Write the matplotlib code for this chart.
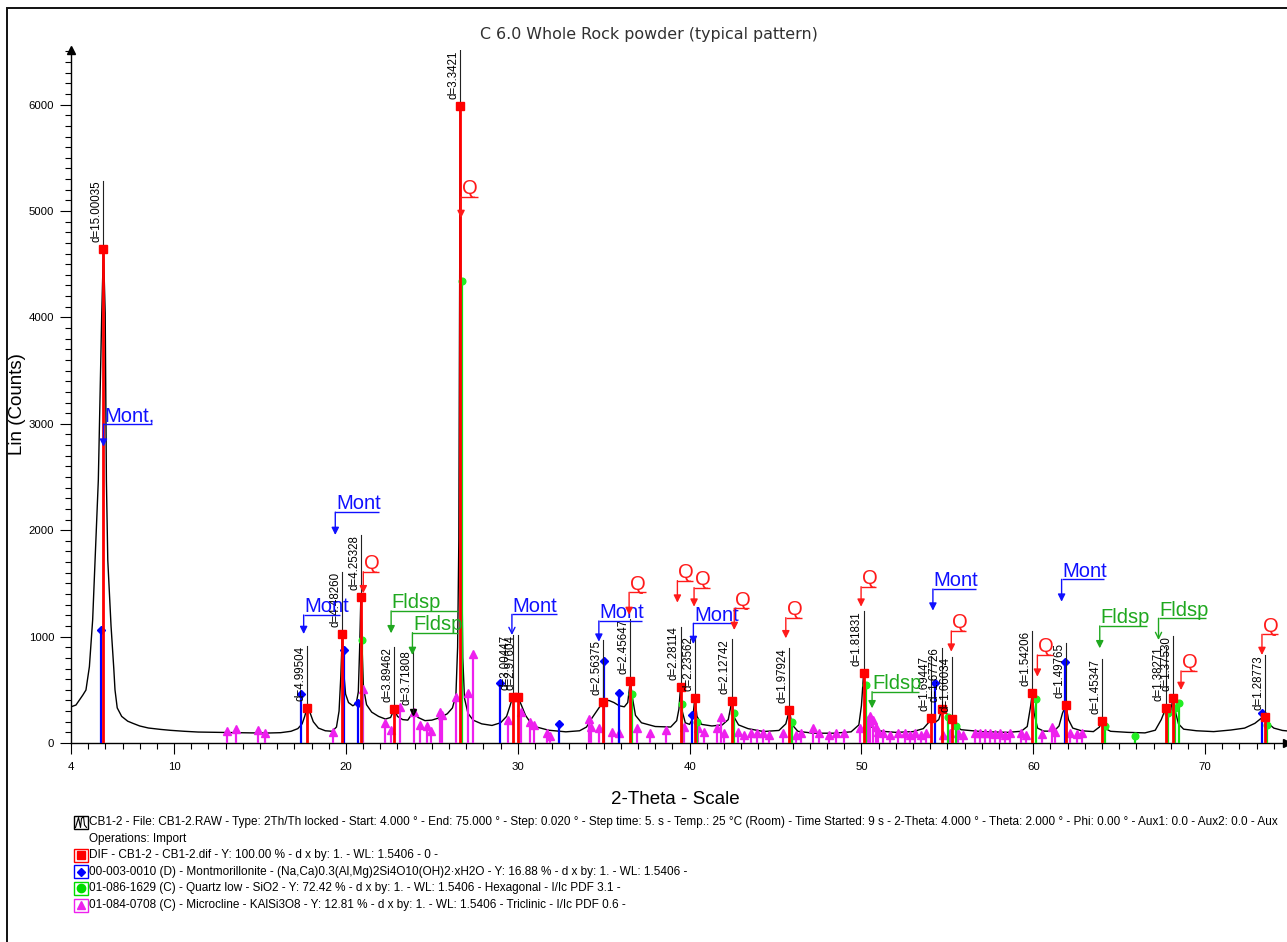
import numpy as np
import matplotlib
matplotlib.use("Agg")
import matplotlib.pyplot as plt
from matplotlib.patches import Rectangle
from matplotlib.lines import Line2D

W, H = 1287, 942
WAVELENGTH = 1.5406
SANS = ["Liberation Sans", "DejaVu Sans"]

# ---- measured scan (2-theta in degrees, counts) ----
scan_2theta = [4.00, 4.29, 4.69, 4.87, 5.07, 5.26, 5.40, 5.59, 5.79, 5.887, 5.99, 6.06, 6.14,
               6.33, 6.49, 6.56, 6.69, 6.95, 7.3, 7.6, 8.0, 8.5, 9.2, 9.8, 10.6, 11.4, 12.5,
               13.5, 14.5, 15.5, 16.2, 16.8, 17.2, 17.45, 17.6, 17.743, 17.9, 18.1, 18.4, 18.8,
               19.2, 19.45, 19.6, 19.7, 19.79, 19.88, 19.98, 20.15, 20.4, 20.6, 20.72, 20.8,
               20.869, 20.94, 21.02, 21.2, 21.5, 21.9, 22.3, 22.6, 22.815, 23.0, 23.3, 23.6,
               23.914, 24.2, 24.6, 25.0, 25.5, 25.9, 26.2, 26.4, 26.5, 26.57, 26.61, 26.651,
               26.69, 26.73, 26.8, 26.9, 27.1, 27.4, 27.9, 28.5, 29.0, 29.35, 29.55, 29.71,
               29.85, 30.0, 30.2, 30.45, 30.75, 31.1, 31.8, 32.8, 33.6, 34.0, 34.3, 34.6,
               34.97, 35.3, 35.6, 35.9, 36.2, 36.4, 36.55, 36.68, 36.85, 37.2, 38.0, 38.9,
               39.25, 39.38, 39.47, 39.57, 39.75, 40.0, 40.18, 40.31, 40.43, 40.7, 41.3, 41.9,
               42.25, 42.46, 42.6, 42.85, 43.4, 44.3, 45.2, 45.6, 45.81, 45.95, 46.3, 47.2,
               48.4, 49.4, 49.85, 50.0, 50.13, 50.23, 50.4, 50.7, 51.2, 52.0, 53.0, 53.6,
               53.95, 54.08, 54.3, 54.5, 54.68, 54.85, 55.05, 55.28, 55.5, 55.8, 57.0, 58.5,
               59.3, 59.65, 59.85, 59.94, 60.05, 60.25, 60.6, 61.2, 61.5, 61.7, 61.9, 62.05,
               62.3, 62.8, 63.5, 63.85, 64.01, 64.15, 64.5, 65.5, 66.5, 67.1, 67.45, 67.71,
               67.85, 68.0, 68.13, 68.28, 68.45, 68.75, 69.5, 70.5, 71.5, 72.3, 72.9, 73.25,
               73.48, 73.7, 74.0, 74.5, 75.0]
scan_counts = [340, 357, 451, 498, 717, 1156, 1720, 2470, 4040, 4640, 4040, 2470, 1720,
               1100, 700, 500, 330, 250, 205, 185, 160, 141, 128, 119, 110, 103, 100,
               97, 95, 94, 97, 110, 135, 180, 250, 332, 290, 200, 140, 115,
               110, 150, 300, 620, 1024, 650, 460, 380, 350, 370, 480, 900,
               1375, 900, 520, 360, 290, 250, 225, 240, 320, 250, 220, 215,
               290, 240, 210, 215, 240, 275, 330, 450, 900, 1900, 4000, 5990,
               4000, 1900, 800, 420, 280, 215, 180, 165, 190, 250, 350, 435,
               415, 435, 360, 260, 190, 150, 120, 105, 115, 150, 230, 300,
               388, 400, 380, 350, 340, 380, 583, 420, 260, 190, 155, 150,
               210, 320, 523, 300, 190, 175, 230, 426, 250, 175, 160, 170,
               220, 395, 240, 170, 135, 108, 118, 180, 310, 175, 110, 92,
               92, 105, 170, 350, 660, 300, 170, 140, 110, 100, 107, 135,
               200, 232, 195, 220, 316, 295, 260, 222, 160, 125, 107, 100,
               110, 155, 350, 467, 280, 140, 112, 110, 160, 280, 357, 220,
               140, 115, 107, 150, 207, 140, 110, 100, 95, 120, 220, 326,
               270, 300, 420, 290, 180, 130, 115, 107, 122, 140, 185, 230,
               247, 180, 140, 118, 110]

# ---- peak-search results (DIF) ----
dif_label = ["d=15.00035", "d=4.99504", "d=4.48260", "d=4.25328", "d=3.89462", "d=3.71808",
             "d=3.3421", "d=3.00447", "d=2.97604", "d=2.56375", "d=2.45647", "d=2.28114",
             "d=2.23562", "d=2.12742", "d=1.97924", "d=1.81831", "d=1.69447", "d=1.67726",
             "d=1.66034", "d=1.54206", "d=1.49765", "d=1.45347", "d=1.38271", "d=1.37530",
             "d=1.28773"]
dif_counts = [4640, 332, 1024, 1375, 320, 290, 5990, 435, 435, 388, 583, 523, 426, 395,
              310, 660, 232, 316, 222, 467, 357, 207, 326, 420, 247]
dif_in_list = [True, True, True, True, True, False, True, True, True, True, True, True, True,
               True, True, True, True, True, True, True, True, True, True, True, True]

# ---- reference patterns ----
mont_2theta = [5.74, 17.38, 19.91, 20.72, 28.98, 32.39, 35.01, 35.88, 40.16, 54.26, 61.84, 73.31]
mont_counts = [1065, 465, 874, 373, 567, 179, 774, 467, 263, 567, 764, 279]

quartz_2theta = [20.95, 26.74, 36.66, 39.58, 40.45, 42.59, 45.95, 50.27, 55.03, 55.48, 60.14,
                 64.17, 65.93, 67.87, 68.25, 68.51, 73.60]
quartz_counts = [968, 4340, 460, 367, 200, 285, 200, 545, 247, 160, 410, 160, 66, 285, 326,
                 373, 169]

micro_2theta = [13.10, 13.63, 14.90, 15.28, 19.26, 21.02, 22.27, 22.62, 23.15, 23.99, 24.32,
                24.70, 24.96, 25.48, 25.62, 26.39, 27.09, 27.42, 29.43, 30.20, 30.73, 30.92,
                31.70, 31.90, 34.13, 34.29, 34.71, 35.49, 35.91, 36.94, 37.72, 38.60, 39.67,
                40.51, 40.84, 41.61, 41.81, 42.00, 42.79, 43.18, 43.57, 43.95, 44.25, 44.63,
                45.41, 46.18, 46.47, 47.16, 47.55, 48.13, 48.52, 49.00, 49.89, 50.18, 50.38,
                50.51, 50.67, 50.82, 50.95, 51.25, 51.64, 52.13, 52.52, 52.81, 53.10, 53.49,
                53.78, 54.74, 55.13, 55.63, 55.92, 56.60, 56.89, 57.18, 57.47, 57.76, 58.05,
                58.34, 58.63, 59.30, 59.60, 60.48, 61.07, 61.26, 62.13, 62.52, 62.81]
micro_counts = [116, 128, 122, 97, 106, 510, 185, 122, 341, 294, 169,
                163, 116, 294, 263, 435, 466, 836, 216, 294, 200, 169,
                91, 66, 222, 153, 138, 107, 91, 138, 91, 122, 153,
                138, 107, 138, 247, 91, 107, 75, 97, 91, 91, 75,
                91, 75, 91, 138, 91, 75, 91, 91, 138, 153, 200,
                254, 216, 153, 107, 91, 75, 97, 91, 75, 91, 75,
                91, 75, 91, 91, 75, 91, 91, 97, 91, 81, 91,
                75, 91, 91, 75, 81, 147, 107, 91, 81, 91]

# ---- phase tags: arrow position, arrow tip, leader level, leader end ----
tag_text = ["Mont,", "Mont", "Mont", "Q", "Fldsp", "Fldsp", "Q", "Mont", "Mont", "Q", "Q",
            "Q", "Mont", "Q", "Q", "Q", "Fldsp", "Mont", "Q", "Q", "Mont", "Fldsp", "Fldsp",
            "Q", "Q"]
tag_2theta = [5.89, 17.54, 19.38, 21.01, 22.63, 23.87, 26.70, 29.66, 34.72, 36.48, 39.29,
              40.26, 40.22, 42.60, 45.60, 49.98, 50.62, 54.16, 55.23, 60.24, 61.65, 63.87,
              67.29, 68.60, 73.31]
tag_tip = [2785, 1024, 1955, 1407, 1031, 827, 4934, 1015, 952, 1203, 1319, 1281, 930, 1062,
           984, 1281, 326, 1244, 858, 623, 1328, 890, 968, 498, 827]
tag_level = [2998, 1203, 2170, 1610, 1241, 1037, 5134, 1209, 1147, 1416, 1526, 1460, 1125,
             1266, 1178, 1469, 482, 1447, 1053, 827, 1538, 1100, 1172, 677, 1021]
tag_end = [8.73, 19.65, 21.95, 21.90, 26.50, 26.50, 27.67, 32.28, 37.23, 37.44, 40.20, 41.17,
           42.68, 43.47, 46.57, 50.82, 53.37, 56.68, 56.10, 61.15, 64.10, 66.60, 70.06, 69.51,
           74.22]
tag_open = [False, False, False, False, False, False, False, True, False, False, False, False,
            False, False, False, False, False, False, False, False, False, False, True, False,
            False]

tag_colors = {"Mont": "#1010ff", "Mont,": "#1010ff", "Q": "#ff1a1a", "Fldsp": "#1fa81f"}

legend_rows = [
    "CB1-2 - File: CB1-2.RAW - Type: 2Th/Th locked - Start: 4.000 \u00b0 - End: 75.000 \u00b0 - "
    "Step: 0.020 \u00b0 - Step time: 5. s - Temp.: 25 \u00b0C (Room) - Time Started: 9 s - "
    "2-Theta: 4.000 \u00b0 - Theta: 2.000 \u00b0 - Phi: 0.00 \u00b0 - Aux1: 0.0 - Aux2: 0.0 - Aux",
    "Operations: Import",
    "DIF - CB1-2 - CB1-2.dif - Y: 100.00 % - d x by: 1. - WL: 1.5406 - 0 -",
    "00-003-0010 (D) - Montmorillonite - (Na,Ca)0.3(Al,Mg)2Si4O10(OH)2\u00b7xH2O - Y: 16.88 % - "
    "d x by: 1. - WL: 1.5406 -",
    "01-086-1629 (C) - Quartz low - SiO2 - Y: 72.42 % - d x by: 1. - WL: 1.5406 - Hexagonal - "
    "I/Ic PDF 3.1 -",
    "01-084-0708 (C) - Microcline - KAlSi3O8 - Y: 12.81 % - d x by: 1. - WL: 1.5406 - "
    "Triclinic - I/Ic PDF 0.6 -",
]


def bragg_2theta(d):
    return np.degrees(2.0 * np.arcsin(WAVELENGTH / (2.0 * np.asarray(d, dtype=float))))


def fx(px):
    return px / W


def fy(py):
    return 1.0 - py / H


fig = plt.figure(figsize=(W / 100, H / 100), dpi=100)
fig.patch.set_facecolor("white")

# outer frame
fig.add_artist(Rectangle((fx(7), fy(960)), fx(1300) - fx(7), fy(8) - fy(960),
                         transform=fig.transFigure, fill=False, lw=1.4, ec="#111111"))

ax = fig.add_axes([fx(71), fy(743), fx(1291) - fx(71), fy(50) - fy(743)])
ax.set_xlim(4, 75)
ax.set_ylim(0, 6513)
for s in ("top", "right"):
    ax.spines[s].set_visible(False)
for s in ("left", "bottom"):
    ax.spines[s].set_linewidth(1.0)

# axis arrows
ax.plot([0], [1], marker="^", color="black", ms=6, transform=ax.transAxes, clip_on=False)
ax.plot([0.997], [0], marker=">", color="black", ms=6, transform=ax.transAxes, clip_on=False)

# ticks
ax.set_yticks(np.arange(0, 6001, 1000))
ax.set_yticks(np.arange(0, 6501, 100), minor=True)
ax.set_xticks([4, 10, 20, 30, 40, 50, 60, 70])
ax.set_xticks(np.arange(5, 75, 1), minor=True)
ax.tick_params(axis="y", which="major", direction="out", length=8, width=0.8, pad=4,
               labelsize=8.2)
ax.tick_params(axis="y", which="minor", direction="out", length=4.2, width=0.8)
ax.tick_params(axis="x", which="major", direction="out", length=8, width=0.8, pad=6,
               labelsize=8.2)
ax.tick_params(axis="x", which="minor", direction="out", length=4, width=0.8)
for lab in ax.get_xticklabels() + ax.get_yticklabels():
    lab.set_family(SANS)

# scan
ax.plot(scan_2theta, scan_counts, color="black", lw=1.0, zorder=2)

# Microcline sticks
ax.vlines(micro_2theta, 0, micro_counts, color="#ee20ee", lw=1.6, zorder=3)
ax.plot(micro_2theta, micro_counts, ls="none", marker="^", ms=5.5, color="#ee20ee",
        zorder=3)

# Quartz sticks
ax.vlines(quartz_2theta, 0, quartz_counts, color="#10e010", lw=1.6, zorder=4)
ax.plot(quartz_2theta, quartz_counts, ls="none", marker="o", ms=4.8, color="#22ee22",
        zorder=4)

# Montmorillonite sticks
ax.vlines(mont_2theta, 0, mont_counts, color="#0000ff", lw=1.6, zorder=5)
ax.plot(mont_2theta, mont_counts, ls="none", marker="D", ms=3.8, color="#0000ff", zorder=5)

# DIF peaks
dif_d = [float(t.split("=")[1]) for t in dif_label]
dif_2theta = bragg_2theta(dif_d)
sq_x = [x for x, keep in zip(dif_2theta, dif_in_list) if keep]
sq_y = [y for y, keep in zip(dif_counts, dif_in_list) if keep]
ax.plot(dif_2theta, dif_counts, ls="none", marker="v", ms=5, color="black", zorder=6)
ax.vlines(sq_x, 0, sq_y, color="#ff0000", lw=2.0, zorder=7)
ax.plot(sq_x, sq_y, ls="none", marker="s", ms=6, color="#ff0000", zorder=7)

# d-spacing labels
d_texts = []
for lab, x, y in zip(dif_label, dif_2theta, dif_counts):
    t = ax.annotate(lab, xy=(x, y), xytext=(-0.6, 5), textcoords="offset points",
                    rotation=90, ha="right", va="bottom", fontsize=8.3, family=SANS,
                    color="black", zorder=8)
    d_texts.append((t, x, y))

# phase tags with leaders
for txt, x, tip, lvl, end, is_open in zip(tag_text, tag_2theta, tag_tip, tag_level, tag_end,
                                          tag_open):
    c = tag_colors[txt]
    ax.plot([x, end], [lvl, lvl], color=c, lw=1.0, zorder=9, solid_capstyle="butt")
    ax.annotate("", xy=(x, tip), xytext=(x, lvl),
                arrowprops=dict(arrowstyle="->" if is_open else "-|>", color=c, lw=1.0,
                                mutation_scale=11, shrinkA=0, shrinkB=0), zorder=9)
    ax.annotate(txt, xy=(x, lvl), xytext=(0.5, -1), textcoords="offset points",
                ha="left", va="bottom", fontsize=14.5, family=SANS, color=c, zorder=9)

fig.text(fx(17.5), fy(404), "Lin (Counts)", rotation=90, ha="center", va="center",
         fontsize=13.5, family=SANS)
fig.text(fx(675), fy(800), "2-Theta - Scale", ha="center", va="center", fontsize=13.5,
         family=SANS)
fig.text(fx(648.5), fy(35), "C 6.0 Whole Rock powder (typical pattern)", ha="center",
         va="center", fontsize=11.4, family=["DejaVu Sans"], color="#303030")

# legend block
row_y = [822, 838.7, 855, 871.7, 888, 905]
for text, y in zip(legend_rows, row_y):
    fig.text(fx(89), fy(y), text, ha="left", va="center", fontsize=8.5, family=SANS)

icon_specs = [("black", None), (None, None), ("#ff0000", "s"), ("#0000ff", "D"),
              ("#00dd00", "o"), ("#ee20ee", "^")]
for (col, mk), y in zip(icon_specs, row_y):
    if col is None:
        continue
    fig.add_artist(Rectangle((fx(74), fy(y + 6.5)), fx(88) - fx(74), fy(y - 6.5) - fy(y + 6.5),
                             transform=fig.transFigure, fill=False, lw=1.0, ec=col))
    if mk is None:
        zig_x = [75.5, 77.5, 78.5, 80.5, 81.5, 83.5, 84.5, 86.5]
        zig_y = [5.5, -1, -4.5, 5.5, -3.5, -5.5, 3, 5.5]
        fig.add_artist(Line2D([fx(v) for v in zig_x], [fy(y + v) for v in zig_y],
                              transform=fig.transFigure, color="black", lw=0.8))
    else:
        fig.add_artist(Line2D([fx(81)], [fy(y)], transform=fig.transFigure, ls="none",
                              marker=mk, ms=6 if mk != "D" else 4.5, color=col))

# leader lines from each peak up to the top of its d-label
fig.canvas.draw()
renderer = fig.canvas.get_renderer()
inv = ax.transData.inverted()
for t, x, y in d_texts:
    bb = t.get_window_extent(renderer)
    top = inv.transform((bb.x1, bb.y1))[1]
    ax.plot([x, x], [y, top], color="#222222", lw=0.8, zorder=6)

fig.savefig("out.png", dpi=100, facecolor="white")
